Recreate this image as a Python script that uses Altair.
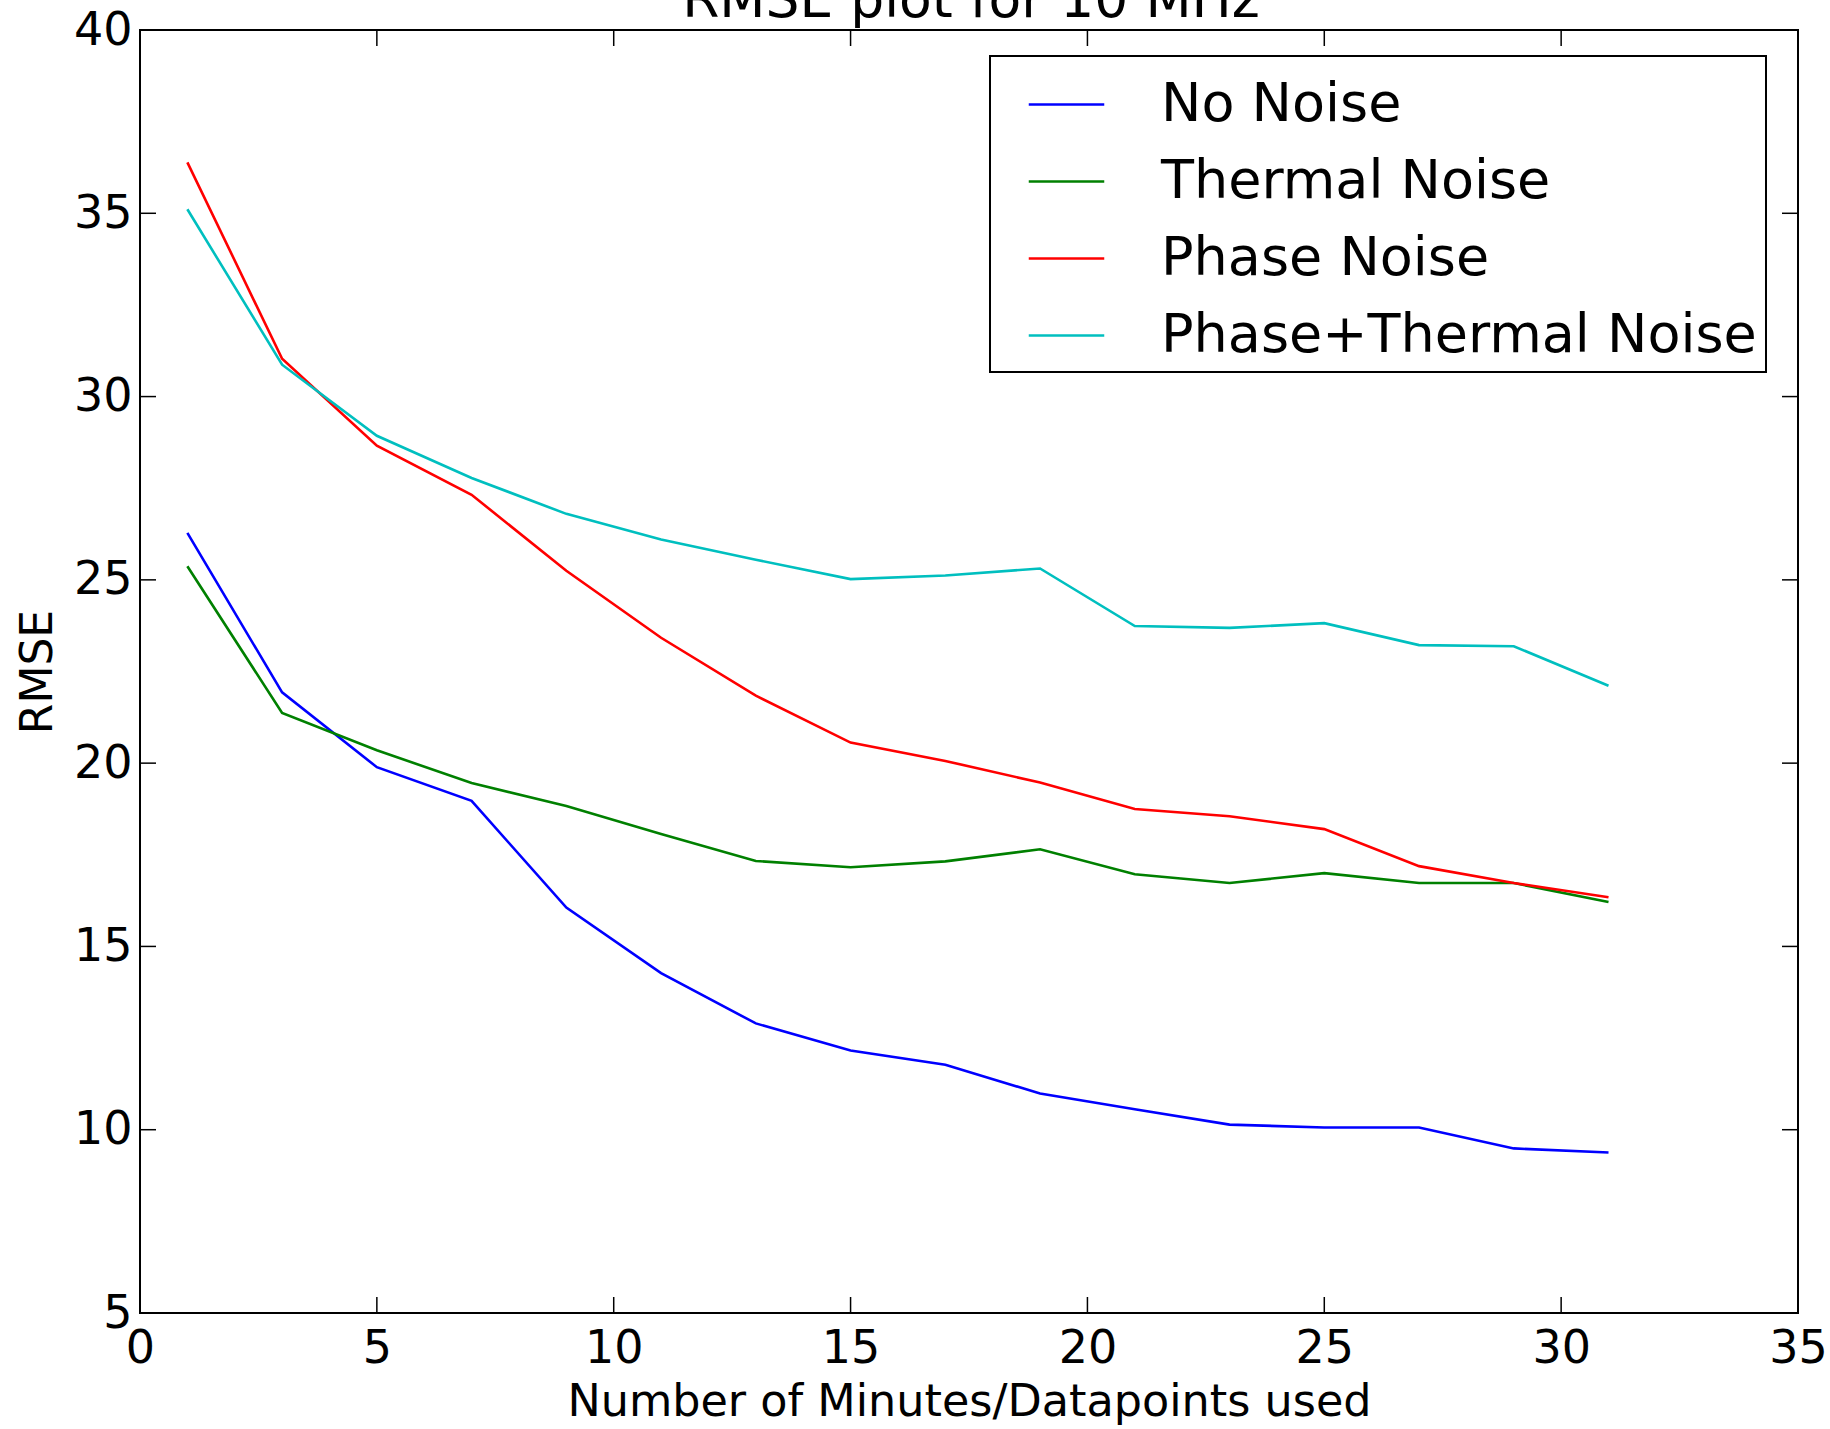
import altair as alt
import pandas as pd

# ---- data ----
minutes = [1, 3, 5, 7, 9, 11, 13, 15, 17, 19, 21, 23, 25, 27, 29, 31]
no_noise = [26.28, 21.93, 19.89, 18.97, 16.06, 14.27, 12.90, 12.16, 11.77, 10.99, 10.56, 10.14, 10.06, 10.06, 9.49, 9.38]
thermal_noise = [25.37, 21.37, 20.35, 19.46, 18.83, 18.07, 17.33, 17.16, 17.32, 17.65, 16.97, 16.73, 17.00, 16.73, 16.73, 16.21]
phase_noise = [36.39, 31.03, 28.66, 27.32, 25.25, 23.42, 21.84, 20.56, 20.06, 19.47, 18.75, 18.55, 18.20, 17.19, 16.73, 16.34]
phase_thermal = [35.11, 30.87, 28.93, 27.78, 26.80, 26.10, 25.55, 25.02, 25.12, 25.31, 23.74, 23.69, 23.82, 23.22, 23.19, 22.11]

series_names = ["No Noise", "Thermal Noise", "Phase Noise", "Phase+Thermal Noise"]
series_colors = ["#0000ff", "#008000", "#ff0000", "#00bfbf"]

x_ticks = [0, 5, 10, 15, 20, 25, 30, 35]
y_ticks = [5, 10, 15, 20, 25, 30, 35, 40]

chart_title = ["RMSE plot for 10 MHz"]

rows = []
for name, vals in zip(series_names, [no_noise, thermal_noise, phase_noise, phase_thermal]):
    for order, (m, v) in enumerate(zip(minutes, vals)):
        rows.append({"minutes": m, "rmse": v, "series": name, "order": order})
df = pd.DataFrame(rows)
xt = pd.DataFrame({"v": x_ticks})
yt = pd.DataFrame({"v": y_ticks})
tt = pd.DataFrame({"t": chart_title})

W, H = 1658, 1283
TICK = 16
FONT = "DejaVu Sans"

xscale = alt.Scale(domain=[0, 35], nice=False, zero=False)
yscale = alt.Scale(domain=[5, 40], nice=False, zero=False)
xaxis = alt.Axis(values=x_ticks, ticks=False, domain=False, grid=False,
                 labelFontSize=46, labelFont=FONT, labelColor="black",
                 labelPadding=13, labelFlush=False, labelOverlap=False,
                 title="Number of Minutes/Datapoints used", titleFontSize=44.5,
                 titleFont=FONT, titleFontWeight="normal", titleColor="black",
                 titlePadding=9)
yaxis = alt.Axis(values=y_ticks, ticks=False, domain=False, grid=False,
                 labelFontSize=46, labelFont=FONT, labelColor="black",
                 labelPadding=8, labelFlush=False, labelOverlap=False,
                 title="RMSE", titleFontSize=44, titleFont=FONT,
                 titleFontWeight="normal", titleColor="black", titlePadding=13)


def X(field):
    return alt.X(field, type="quantitative", scale=xscale, axis=xaxis)


def Y(field):
    return alt.Y(field, type="quantitative", scale=yscale, axis=yaxis)


lines = alt.Chart(df).mark_line(strokeWidth=2.6, clip=True).encode(
    x=X("minutes"),
    y=Y("rmse"),
    order=alt.Order("order:Q"),
    color=alt.Color(
        "series:N",
        scale=alt.Scale(domain=series_names, range=series_colors),
        sort=series_names,
        legend=alt.Legend(
            title=None, orient="none", legendX=850, legendY=26,
            symbolType="stroke", symbolSize=5700, symbolStrokeWidth=2.6,
            labelFontSize=54, labelFont=FONT, labelColor="black",
            labelLimit=1200, labelOffset=55, symbolOffset=28,
            padding=9, rowPadding=10, strokeColor="black", fillColor="white",
            cornerRadius=0, offset=0,
        ),
    ),
)

tick_bottom = alt.Chart(xt).mark_rule(color="black", strokeWidth=1.5).encode(
    x=X("v"), y=alt.value(H), y2=alt.value(H - TICK))
tick_top = alt.Chart(xt).mark_rule(color="black", strokeWidth=1.5).encode(
    x=X("v"), y=alt.value(0), y2=alt.value(TICK))
tick_left = alt.Chart(yt).mark_rule(color="black", strokeWidth=1.5).encode(
    y=Y("v"), x=alt.value(0), x2=alt.value(TICK))
tick_right = alt.Chart(yt).mark_rule(color="black", strokeWidth=1.5).encode(
    y=Y("v"), x=alt.value(W), x2=alt.value(W - TICK))

# title (partly cut off at the top edge, as in the reference)
title_text = alt.Chart(tt).mark_text(
    fontSize=53.5, font=FONT, color="black", align="center", baseline="alphabetic"
).encode(text="t:N", x=alt.value(W / 2 + 2), y=alt.value(-13))

chart = alt.layer(lines, tick_bottom, tick_top, tick_left, tick_right, title_text).properties(
    width=W, height=H,
    autosize=alt.AutoSizeParams(type="none"),
    padding={"left": 140, "top": 30, "right": 32, "bottom": 116},
).configure_view(stroke="black", strokeWidth=2).configure_legend(strokeWidth=2)

chart.save("out.html", embed_options={"renderer": "svg", "actions": False})
